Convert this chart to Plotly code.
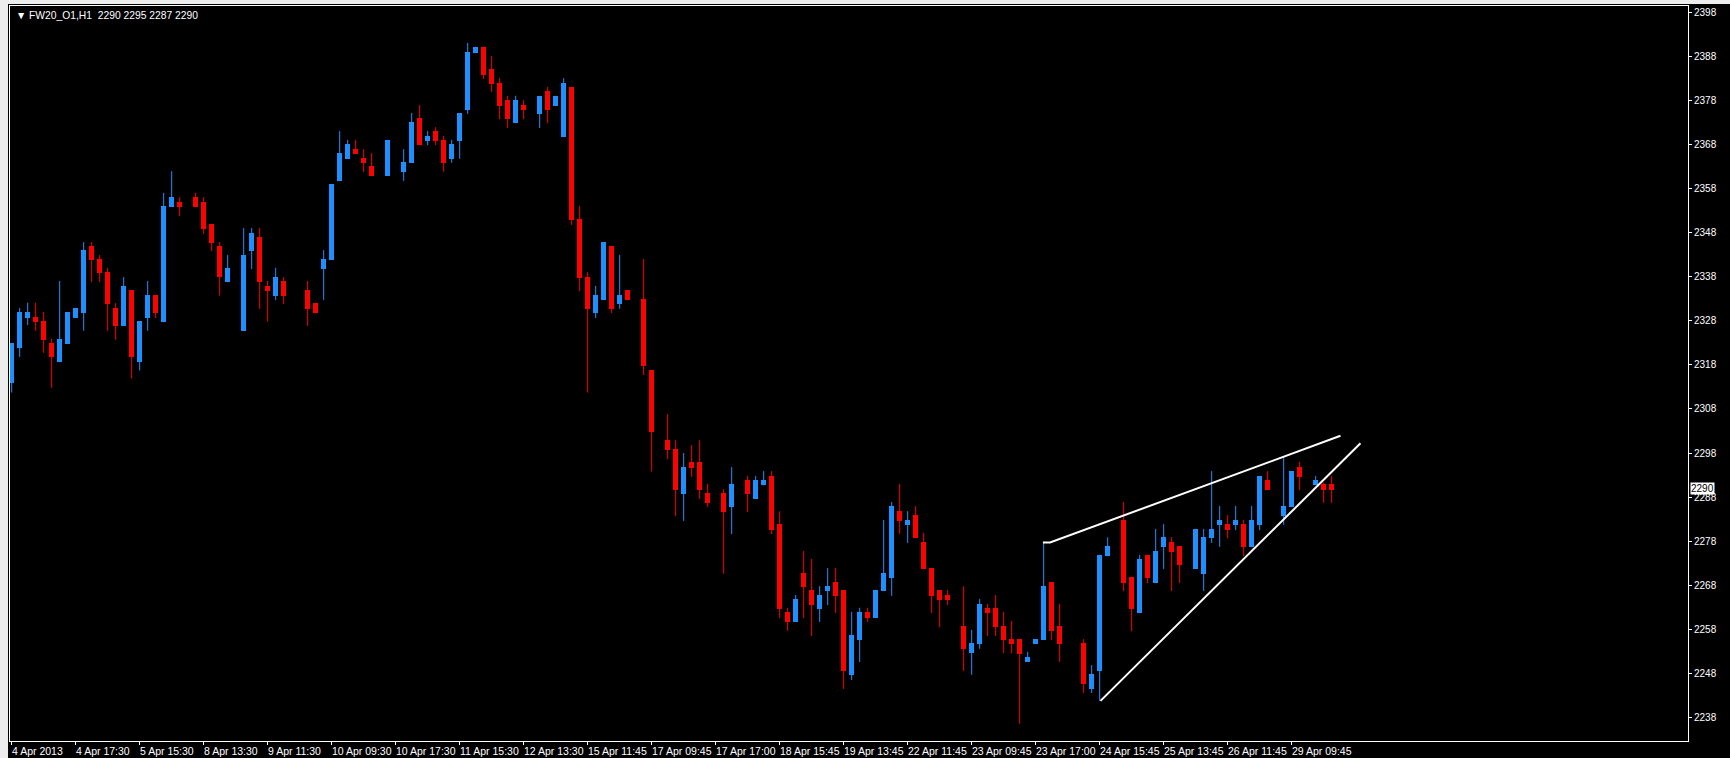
import plotly.graph_objects as go

# ---------------- data ----------------
opens = [2313.8, 2321.7, 2328.7, 2328.8, 2327.9, 2322.9, 2318.7, 2322.8, 2328.7, 2329.8,
         2344.9, 2342.0, 2339.0, 2330.9, 2326.8, 2335.0, 2318.7, 2328.6, 2333.8, 2327.7,
         2353.8, 2354.9, None, 2356.0, 2354.9, 2349.9, 2344.9, 2336.8, None, 2325.7,
         2343.8, 2347.0, 2335.9, 2333.6, 2337.0, None, None, 2335.0, 2332.0, 2339.7,
         2341.8, 2359.7, 2364.7, 2366.9, 2364.9, 2363.1, None, 2360.8, None, 2361.8,
         2363.8, 2374.0, 2368.7, 2371.0, 2369.0, 2364.7, 2368.8, 2375.8, 2388.7, 2390.1,
         2385.1, 2381.9, 2378.0, 2372.8, 2376.9, None, 2374.9, 2380.1, 2376.7, 2369.7,
         2381.0, 2351.1, 2337.9, 2329.7, 2332.7, 2344.9, 2331.8, 2335.0, None, 2332.9,
         2316.8, None, 2300.9, 2298.9, 2288.7, 2295.9, 2295.9, 2288.9, None, 2288.9,
         2285.8, None, 2291.9, 2287.6, 2290.7, 2292.8, 2281.8, 2262.0, 2259.7, 2270.8,
         2266.9, 2262.6, 2266.7, 2268.7, 2266.9, 2247.7, 2255.6, 2262.0, 2260.6, 2266.7,
         2269.7, 2284.8, 2281.7, 2283.9, 2277.8, 2271.9, 2266.9, 2265.8, None, 2258.8,
         2252.6, 2254.7, 2262.9, 2262.9, 2258.8, 2255.8, 2255.8, 2250.6, 2254.7, 2255.6,
         2268.7, 2258.8, None, None, 2254.9, 2244.5, 2248.6, 2274.6, None, 2282.8,
         2269.9, 2261.7, 2274.9, 2268.5, 2276.7, 2277.8, 2276.9, None, 2271.7, 2270.6,
         2278.7, 2281.7, 2281.9, 2281.7, 2281.9, 2276.7, 2281.7, 2291.9, None, 2283.7,
         2285.8, 2294.8, None, 2290.7, 2291.0, 2291.0]

highs = [2322.9, 2330.9, 2332.1, 2332.1, 2330.0, 2323.9, 2337.0, 2330.0, 2330.9, 2345.8,
         2345.8, 2342.9, 2340.0, 2332.0, 2337.9, 2335.0, 2327.9, 2337.0, 2333.8, 2357.0,
         2361.9, 2356.0, None, 2357.0, 2356.0, 2349.9, 2345.8, 2342.9, None, 2349.0,
         2349.0, 2349.0, 2337.0, 2340.0, 2337.9, None, None, 2337.0, 2332.0, 2344.0,
         2359.0, 2371.0, 2369.0, 2369.0, 2366.9, 2366.0, None, 2369.0, None, 2366.9,
         2375.1, 2376.9, 2371.0, 2371.9, 2369.9, 2369.0, 2375.1, 2391.0, 2390.1, 2390.1,
         2388.0, 2383.0, 2379.0, 2379.0, 2378.0, None, 2379.0, 2381.0, 2379.0, 2383.0,
         2381.0, 2354.0, 2339.0, 2335.9, 2345.8, 2344.9, 2342.9, 2335.0, None, 2342.0,
         2316.8, None, 2306.8, 2300.9, 2298.0, 2299.8, 2300.9, 2291.0, None, 2289.8,
         2294.8, None, 2292.8, 2292.8, 2293.9, 2293.9, 2284.8, 2262.9, 2265.8, 2275.8,
         2274.0, 2267.8, 2271.9, 2271.9, 2266.9, 2262.0, 2262.9, 2262.9, 2266.9, 2282.8,
         2286.9, 2291.0, 2284.8, 2286.0, 2279.9, 2271.9, 2266.9, 2266.9, None, 2267.8,
         2257.9, 2264.9, 2263.8, 2265.8, 2262.0, 2259.9, 2255.8, 2252.9, 2255.8, 2277.6,
         2268.7, 2263.8, None, None, 2255.8, 2249.9, 2274.9, 2278.9, None, 2286.9,
         2269.9, 2274.9, 2274.9, 2280.8, 2281.9, 2278.9, 2276.9, None, 2280.8, 2280.8,
         2293.9, 2286.0, 2283.9, 2286.0, 2282.8, 2286.0, 2292.8, 2293.9, None, 2297.1,
         2293.9, 2296.0, None, 2292.8, 2291.3, 2292.8]

lows = [2311.7, 2319.8, 2327.0, 2325.7, 2320.7, 2312.8, 2318.7, 2322.8, 2328.7, 2325.7,
        2336.8, 2336.8, 2325.7, 2323.7, 2326.8, 2314.9, 2316.7, 2325.7, 2328.6, 2327.7,
        2353.8, 2351.7, None, 2353.8, 2347.7, 2343.8, 2333.7, 2336.8, None, 2325.7,
        2339.7, 2330.7, 2327.8, 2332.7, 2331.8, None, None, 2326.8, 2329.7, 2332.7,
        2341.8, 2359.7, 2364.7, 2365.8, 2361.7, 2360.8, None, 2360.8, None, 2359.7,
        2363.8, 2367.8, 2367.8, 2367.8, 2361.8, 2363.8, 2364.7, 2374.9, 2388.7, 2382.8,
        2379.9, 2373.7, 2371.7, 2372.8, 2373.7, None, 2371.7, 2372.8, 2376.7, 2369.7,
        2349.7, 2334.7, 2311.7, 2328.6, 2332.7, 2329.7, 2330.7, 2332.7, None, 2315.7,
        2293.8, None, 2296.6, 2283.7, 2282.6, 2292.6, 2287.6, 2285.8, None, 2270.6,
        2279.6, None, 2284.6, 2287.6, 2290.7, 2279.6, 2260.6, 2257.7, 2259.7, 2260.6,
        2256.5, 2259.7, 2263.5, 2261.7, 2244.5, 2246.5, 2250.6, 2259.7, 2260.6, 2266.7,
        2265.6, 2279.6, 2277.6, 2278.7, 2271.7, 2261.7, 2258.5, 2263.5, None, 2248.6,
        2247.7, 2253.6, 2256.5, 2256.5, 2252.6, 2252.6, 2236.6, 2250.6, 2254.7, 2255.6,
        2255.6, 2250.6, None, None, 2243.6, 2243.6, 2241.8, 2274.6, None, 2266.7,
        2257.6, 2261.7, 2268.5, 2268.5, 2271.7, 2266.7, 2268.5, None, 2271.7, 2266.7,
        2277.6, 2276.7, 2278.7, 2280.5, 2274.6, 2276.7, 2280.5, 2289.6, None, 2281.7,
        2285.8, 2289.6, None, 2290.7, 2286.7, 2286.7]

closes = [2322.9, 2330.0, 2330.0, 2327.8, 2323.7, 2319.8, 2323.9, 2330.0, 2330.9, 2344.0,
          2341.8, 2338.8, 2331.8, 2326.8, 2335.9, 2319.8, 2327.9, 2333.8, 2329.7, 2354.0,
          2356.0, 2353.8, None, 2353.8, 2348.8, 2345.6, 2337.8, 2340.0, None, 2342.9,
          2347.9, 2336.8, 2334.7, 2337.9, 2333.6, None, None, 2330.7, 2329.7, 2342.0,
          2359.0, 2366.0, 2368.1, 2365.8, 2363.8, 2360.8, None, 2369.0, None, 2364.0,
          2373.1, 2367.8, 2369.9, 2368.7, 2363.8, 2368.1, 2375.1, 2388.9, 2390.1, 2383.7,
          2381.7, 2376.7, 2373.7, 2378.0, 2375.8, None, 2379.0, 2375.8, 2379.0, 2381.9,
          2350.8, 2337.7, 2330.7, 2333.8, 2345.8, 2330.7, 2333.8, 2332.7, None, 2317.8,
          2302.8, None, 2298.7, 2289.6, 2294.8, 2294.6, 2289.6, 2286.7, None, 2284.6,
          2291.0, None, 2288.7, 2291.9, 2291.9, 2280.5, 2262.6, 2259.7, 2264.9, 2267.6,
          2263.5, 2265.8, 2267.8, 2265.6, 2248.6, 2256.7, 2262.0, 2260.6, 2266.9, 2270.8,
          2286.0, 2282.6, 2282.8, 2278.7, 2271.7, 2265.6, 2264.7, 2264.7, None, 2253.6,
          2254.9, 2263.8, 2261.7, 2258.5, 2255.6, 2254.7, 2252.5, 2251.7, 2255.8, 2267.8,
          2257.6, 2254.7, None, None, 2245.6, 2247.9, 2274.9, 2276.9, None, 2268.5,
          2262.6, 2274.0, 2269.7, 2275.8, 2278.9, 2275.6, 2272.6, None, 2280.8, 2278.9,
          2280.8, 2282.8, 2280.5, 2282.8, 2276.7, 2282.8, 2292.8, 2289.6, None, 2286.0,
          2293.9, 2292.6, None, 2291.9, 2289.6, 2289.6]

date_labels = ["4 Apr 2013", "4 Apr 17:30", "5 Apr 15:30", "8 Apr 13:30", "9 Apr 11:30",
               "10 Apr 09:30", "10 Apr 17:30", "11 Apr 15:30", "12 Apr 13:30", "15 Apr 11:45",
               "17 Apr 09:45", "17 Apr 17:00", "18 Apr 15:45", "19 Apr 13:45", "22 Apr 11:45",
               "23 Apr 09:45", "23 Apr 17:00", "24 Apr 15:45", "25 Apr 13:45", "26 Apr 11:45",
               "29 Apr 09:45"]
bars_per_label = 8

price_ticks = [2238, 2248, 2258, 2268, 2278, 2288, 2298, 2308, 2318, 2328,
               2338, 2348, 2358, 2368, 2378, 2388, 2398]

header_text = "FW20_O1,H1\u00a0\u00a02290 2295 2287 2290"
last_price = 2290

# hand-drawn trend lines (bar index, price)
upper_line_x = [128.9, 129.8, 166.1]
upper_line_y = [2277.7, 2277.7, 2301.9]
lower_line_x = [136.1, 168.6]
lower_line_y = [2241.8, 2300.2]

# ---------------- styling ----------------
UP = "#1E90FF"
DOWN = "#FF0000"
FONT = "Liberation Sans, DejaVu Sans, sans-serif"
W, H = 1730, 758
ML, MR, MT, MB = 10, 42, 6, 17
PW, PH = W - ML - MR, H - MT - MB

idx = list(range(len(opens)))

up_x, up_base, up_h = [], [], []
dn_x, dn_base, dn_h = [], [], []
wu_x, wu_y, wd_x, wd_y = [], [], [], []
for k, o, h, l, c in zip(idx, opens, highs, lows, closes):
    if o is None:
        continue
    lo, hi = min(o, c), max(o, c)
    hgt = max(hi - lo, 0.25)
    if c >= o:
        up_x.append(k); up_base.append(lo); up_h.append(hgt)
        wu_x += [k, k, None]; wu_y += [l, h, None]
    else:
        dn_x.append(k); dn_base.append(lo); dn_h.append(hgt)
        wd_x += [k, k, None]; wd_y += [l, h, None]

fig = go.Figure()
fig.add_trace(go.Scatter(x=wu_x, y=wu_y, mode="lines", line=dict(color=UP, width=1),
                         hoverinfo="skip", showlegend=False))
fig.add_trace(go.Scatter(x=wd_x, y=wd_y, mode="lines", line=dict(color=DOWN, width=1),
                         hoverinfo="skip", showlegend=False))
fig.add_trace(go.Bar(x=up_x, y=up_h, base=up_base, width=0.625,
                     marker=dict(color=UP, line=dict(width=0)), showlegend=False))
fig.add_trace(go.Bar(x=dn_x, y=dn_h, base=dn_base, width=0.625,
                     marker=dict(color=DOWN, line=dict(width=0)), showlegend=False))
fig.add_trace(go.Scatter(x=upper_line_x, y=upper_line_y, mode="lines",
                         line=dict(color="white", width=2), showlegend=False, hoverinfo="skip"))
fig.add_trace(go.Scatter(x=lower_line_x, y=lower_line_y, mode="lines",
                         line=dict(color="white", width=2), showlegend=False, hoverinfo="skip"))

x0 = -0.21
x1 = x0 + PW / 8.0
y_top = 2399.36
y_bot = y_top - PH / 4.41

tick_pos = [j * bars_per_label for j in range(len(date_labels))]

annotations = []
for pos, lab in zip(tick_pos, date_labels):
    annotations.append(dict(x=pos, y=0, xref="x", yref="paper", text=lab, showarrow=False,
                            xanchor="left", yanchor="top", xshift=-2, yshift=-2,
                            font=dict(family=FONT, size=10.5, color="white")))
annotations.append(dict(x=0, y=1, xref="paper", yref="paper", text="\u25BC " + header_text,
                        showarrow=False, xanchor="left", yanchor="top", xshift=4, yshift=-2,
                        font=dict(family=FONT, size=10.3, color="white")))
annotations.append(dict(x=1, y=last_price, xref="paper", yref="y", text=str(last_price),
                        showarrow=False, xanchor="left", yanchor="middle", xshift=2,
                        bgcolor="white", borderpad=0,
                        font=dict(family=FONT, size=10, color="black")))

shapes = [
    dict(type="rect", xref="paper", yref="paper", x0=-ML / PW, x1=-2 / PW,
         y0=-MB / PH, y1=1 + MT / PH, fillcolor="#EDEDED", line=dict(width=0), layer="below"),
    dict(type="rect", xref="paper", yref="paper", x0=-ML / PW, x1=1 + MR / PW,
         y0=1 + 2 / PH, y1=1 + MT / PH, fillcolor="#EDEDED", line=dict(width=0), layer="below"),
]

fig.update_layout(
    width=W, height=H,
    margin=dict(l=ML, r=MR, t=MT, b=MB, pad=0),
    paper_bgcolor="black", plot_bgcolor="black",
    barmode="overlay", bargap=0,
    showlegend=False,
    annotations=annotations,
    shapes=shapes,
    xaxis=dict(range=[x0, x1], showgrid=False, zeroline=False, showline=True,
               linecolor="white", linewidth=1, mirror=True, ticks="outside", ticklen=3,
               tickcolor="white", tickvals=tick_pos, showticklabels=False, fixedrange=True),
    yaxis=dict(range=[y_bot, y_top], side="right", showgrid=False, zeroline=False,
               showline=True, linecolor="white", linewidth=1, mirror=True,
               ticks="outside", ticklen=3, tickcolor="white", tickvals=price_ticks,
               ticktext=[str(v) for v in price_ticks],
               tickfont=dict(family=FONT, size=10, color="white"), fixedrange=True),
)

fig.write_html(
    "out.html",
    config={"displayModeBar": False},
    post_script="document.body.style.margin='0';document.body.style.background='black';"
                "document.documentElement.style.overflow='hidden';",
)
